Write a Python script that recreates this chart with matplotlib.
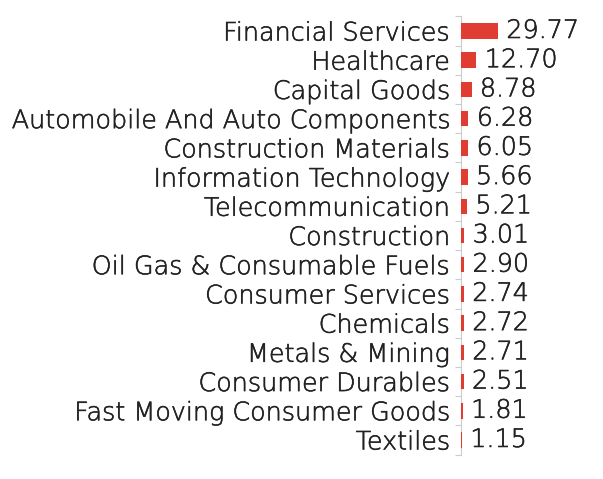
import matplotlib
matplotlib.use("Agg")
import matplotlib.pyplot as plt
import matplotlib.patheffects as pe

categories = ["Financial Services", "Healthcare", "Capital Goods",
              "Automobile And Auto Components", "Construction Materials",
              "Information Technology", "Telecommunication", "Construction",
              "Oil Gas & Consumable Fuels", "Consumer Services", "Chemicals",
              "Metals & Mining", "Consumer Durables",
              "Fast Moving Consumer Goods", "Textiles"]
values = [29.77, 12.70, 8.78, 6.28, 6.05, 5.66, 5.21, 3.01, 2.90, 2.74,
          2.72, 2.71, 2.51, 1.81, 1.15]
value_labels = ["29.77", "12.70", "8.78", "6.28", "6.05", "5.66", "5.21",
                "3.01", "2.90", "2.74", "2.72", "2.71", "2.51", "1.81", "1.15"]

plt.rcParams['font.family'] = ['DejaVu Sans']

W, H = 603, 479
fig = plt.figure(figsize=(W / 100, H / 100), dpi=100)
left = 460.5 / W
right = 600 / W
top = 1 - 16.4 / H
bottom = 1 - 454.6 / H
ax = fig.add_axes([left, bottom, right - left, top - bottom])

n = len(categories)
ypos = list(range(n))
ax.barh(ypos, values, height=0.53, color="#e03c31", zorder=3)
ax.set_ylim(n - 0.5, -0.5)
ax.set_xlim(0, 29.77 * (right - left) * W / 37.5)

FS = 18.3
TXT = "#222222"
effects = [pe.withStroke(linewidth=0.4, foreground=TXT)]
for y, v, lab in zip(ypos, values, value_labels):
    ax.annotate(lab, (v, y), xytext=(6, 0), textcoords="offset points",
                va="center", ha="left", fontsize=FS, color=TXT,
                fontweight="light", path_effects=effects)

ax.set_yticks(ypos)
ax.set_yticklabels(categories, fontsize=FS, color=TXT, fontweight="light")
for t in ax.get_yticklabels():
    t.set_path_effects(effects)
ax.tick_params(axis="y", length=0, pad=7.5)
ax.set_yticks([i + 0.5 for i in range(-1, n)], minor=True)
ax.tick_params(axis="y", which="minor", length=4, color="#cccccc", width=0.8)
ax.set_xticks([])
for s in ["top", "right", "bottom"]:
    ax.spines[s].set_visible(False)
ax.spines["left"].set_color("#cccccc")
ax.spines["left"].set_linewidth(0.8)

fig.savefig("out.png", dpi=100)
